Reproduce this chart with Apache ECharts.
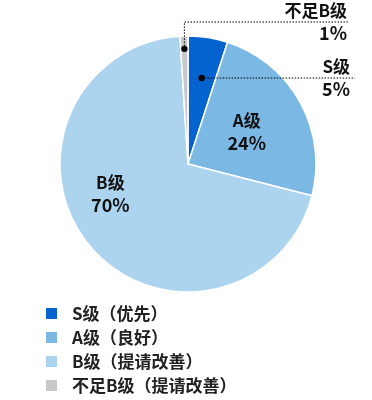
<!DOCTYPE html>
<html>
<head>
<meta charset="utf-8">
<script src="https://cdn.jsdelivr.net/npm/echarts@6/dist/echarts.min.js"></script>
<style>
  html, body { margin: 0; padding: 0; background: #fff; }
  #main { width: 372px; height: 400px; }
</style>
</head>
<body>
<div id="main"></div>
<script>
// data
var names = ['S级（优先）', 'A级（良好）', 'B级（提请改善）', '不足B级（提请改善）'];
var shortNames = ['S级', 'A级', 'B级', '不足B级'];
var values = [5, 24, 70, 1];
var colors = ['#0563d0', '#7bb9e4', '#add4ef', '#c8c8ca'];

var cx = 188, cy = 164, R = 128;
var total = values.reduce(function (a, b) { return a + b; }, 0);

// point on the slice's middle ray, k = fraction of radius
function pt(i, k) {
  var before = 0;
  for (var j = 0; j < i; j++) before += values[j];
  var a = (before + values[i] / 2) / total * Math.PI * 2;
  return [cx + k * R * Math.sin(a), cy - k * R * Math.cos(a)];
}

var chart = echarts.init(document.getElementById('main'), null, { renderer: 'canvas' });

var outside = [true, false, false, true];
var seriesData = values.map(function (v, i) {
  return {
    name: names[i],
    value: v,
    itemStyle: { color: colors[i] },
    label: { position: outside[i] ? 'outside' : 'inside' }
  };
});

var dotS = pt(0, 0.68);
var dotN = pt(3, 0.9);
var topY = cy - R - 14;
var lineStyle = { stroke: '#000', lineWidth: 1, lineDash: [1.5, 1.5], fill: null };

var font = '"Noto Sans CJK SC", "Noto Sans", sans-serif';

var option = {
  animation: false,
  textStyle: { fontFamily: font },
  legend: {
    orient: 'vertical',
    left: 39,
    top: 300,
    height: 110,
    itemWidth: 13,
    itemHeight: 13,
    itemGap: 7,
    icon: 'rect',
    data: names,
    textStyle: {
      fontSize: 17,
      fontWeight: 'bold',
      color: '#222',
      padding: [0, 0, 0, 9],
      fontFamily: font
    }
  },
  graphic: [
    { type: 'polyline', shape: { points: [dotS, [355, dotS[1]]] }, style: lineStyle, z: 99 },
    { type: 'polyline', shape: { points: [dotN, [dotN[0], topY], [348, topY]] }, style: lineStyle, z: 99 },
    { type: 'circle', shape: { cx: dotS[0], cy: dotS[1], r: 3.2 }, style: { fill: '#000' }, z: 100 },
    { type: 'circle', shape: { cx: dotN[0], cy: dotN[1], r: 3.2 }, style: { fill: '#000' }, z: 100 }
  ],
  series: [{
    type: 'pie',
    center: [cx, cy],
    radius: [0, R],
    startAngle: 90,
    clockwise: true,
    avoidLabelOverlap: false,
    itemStyle: { borderColor: '#fff', borderWidth: 1.5 },
    label: {
      show: true,
      color: '#111',
      fontFamily: font,
      formatter: function (p) {
        return '{n|' + shortNames[p.dataIndex] + '}\n{p|' + p.value + '%}';
      },
      rich: {
        n: { fontSize: 17, fontWeight: 'bold', color: '#111', lineHeight: 23, fontFamily: font },
        p: { fontSize: 18, fontWeight: 'bold', color: '#111', lineHeight: 23, fontFamily: font }
      }
    },
    labelLine: { show: false },
    labelLayout: function (p) {
      var i = p.dataIndex;
      if (i === 0) {
        return { x: 350, y: dotS[1], align: 'right', verticalAlign: 'middle' };
      }
      if (i === 3) {
        return { x: 347, y: topY, align: 'right', verticalAlign: 'middle' };
      }
      if (i === 2) {
        return { dx: -26, dy: -13 };
      }
      return {};
    },
    data: seriesData
  }]
};

chart.setOption(option);
</script>
</body>
</html>
